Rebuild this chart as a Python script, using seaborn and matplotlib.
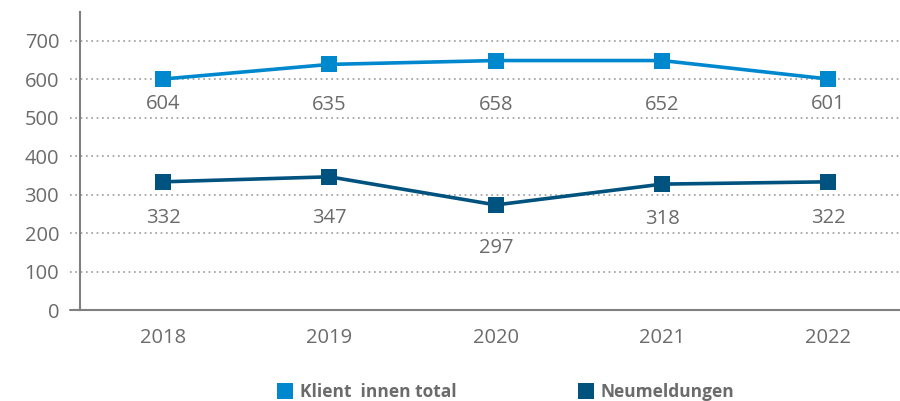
"""
Klient:innen total und Neumeldungen 2018-2022
"""

import pandas as pd
import seaborn as sns
import matplotlib.pyplot as plt
import matplotlib.transforms as mtransforms
from matplotlib.lines import Line2D

years = ["2018", "2019", "2020", "2021", "2022"]
# positions
klient_plot = [600, 638, 648, 648, 600]
neu_plot = [333, 346, 273, 327, 333]
# printed data labels
klient_labels = ["604", "635", "658", "652", "601"]
neu_labels = ["332", "347", "297", "318", "322"]
series_names = ["Klient  innen total", "Neumeldungen"]
colors = ["#0088CE", "#00527F"]

# label offsets below the markers (points)
klient_off = [18, 29, 32, 32, 18]
neu_off = [26, 30, 31, 25, 26]

TEXT = "#6b6b6b"
AXIS = "#808080"

sns.set_theme(style="white")
plt.rcParams["font.family"] = ["Open Sans", "DejaVu Sans"]

df = pd.DataFrame({
    "x": list(range(len(years))) * 2,
    "value": klient_plot + neu_plot,
    "series": [series_names[0]] * len(years) + [series_names[1]] * len(years),
})

fig = plt.figure(figsize=(9, 4.01), dpi=100)
ax = fig.add_axes([0.0889, 0.2269, 0.9111, 0.7431])

sns.lineplot(data=df, x="x", y="value", hue="series", palette=colors,
             marker="s", markersize=11, markeredgewidth=0, linewidth=2.6,
             legend=False, ax=ax, zorder=3)

ax.set_xlim(-0.5, 4.43)
ax.set_ylim(0, 774)
ax.set_xlabel("")
ax.set_ylabel("")

# dotted grid, reaching a little left of the axis
trans = mtransforms.blended_transform_factory(ax.transAxes, ax.transData)
for v in range(100, 800, 100):
    ax.plot([-0.012, 1], [v, v], transform=trans, color="#999999", lw=1.2,
            linestyle=(0, (1, 2.2)), clip_on=False, zorder=1)
ax.plot([-0.012, 0], [0, 0], transform=trans, color=AXIS, lw=1.5,
        clip_on=False, zorder=2)

for s in ["top", "right"]:
    ax.spines[s].set_visible(False)
for s in ["left", "bottom"]:
    ax.spines[s].set_color(AXIS)
    ax.spines[s].set_linewidth(1.5)

ax.set_yticks(range(0, 800, 100))
ax.set_xticks(range(len(years)))
ax.set_xticklabels(years)
ax.set_xticks([-0.5, 0.5, 1.5, 2.5, 3.5], minor=True)
ax.tick_params(axis="y", length=0, pad=15, labelsize=14.5, labelcolor=TEXT)
ax.tick_params(axis="x", which="major", length=0, pad=13, labelsize=14.5,
               labelcolor=TEXT)
ax.tick_params(axis="x", which="minor", length=7, width=1.5, color=AXIS,
               direction="out")

for vals, labs, offs in [(klient_plot, klient_labels, klient_off),
                         (neu_plot, neu_labels, neu_off)]:
    for i, (v, t, o) in enumerate(zip(vals, labs, offs)):
        ax.annotate(t, (i, v), xytext=(0, -o), textcoords="offset points",
                    ha="center", va="center", fontsize=14.5, color=TEXT)

handles = [Line2D([], [], linestyle="none", marker="s", markersize=11,
                  markeredgewidth=0, color=c) for c in colors]
leg = fig.legend(handles, series_names, loc="center", ncol=2,
                 bbox_to_anchor=(0.562, 0.022), frameon=False,
                 handlelength=0.9, handletextpad=0.4, columnspacing=7.0,
                 prop={"size": 12.5, "weight": "bold"})
for t in leg.get_texts():
    t.set_color(TEXT)

fig.savefig("out.png", dpi=100)
plt.close(fig)
print("Saved out.png")
